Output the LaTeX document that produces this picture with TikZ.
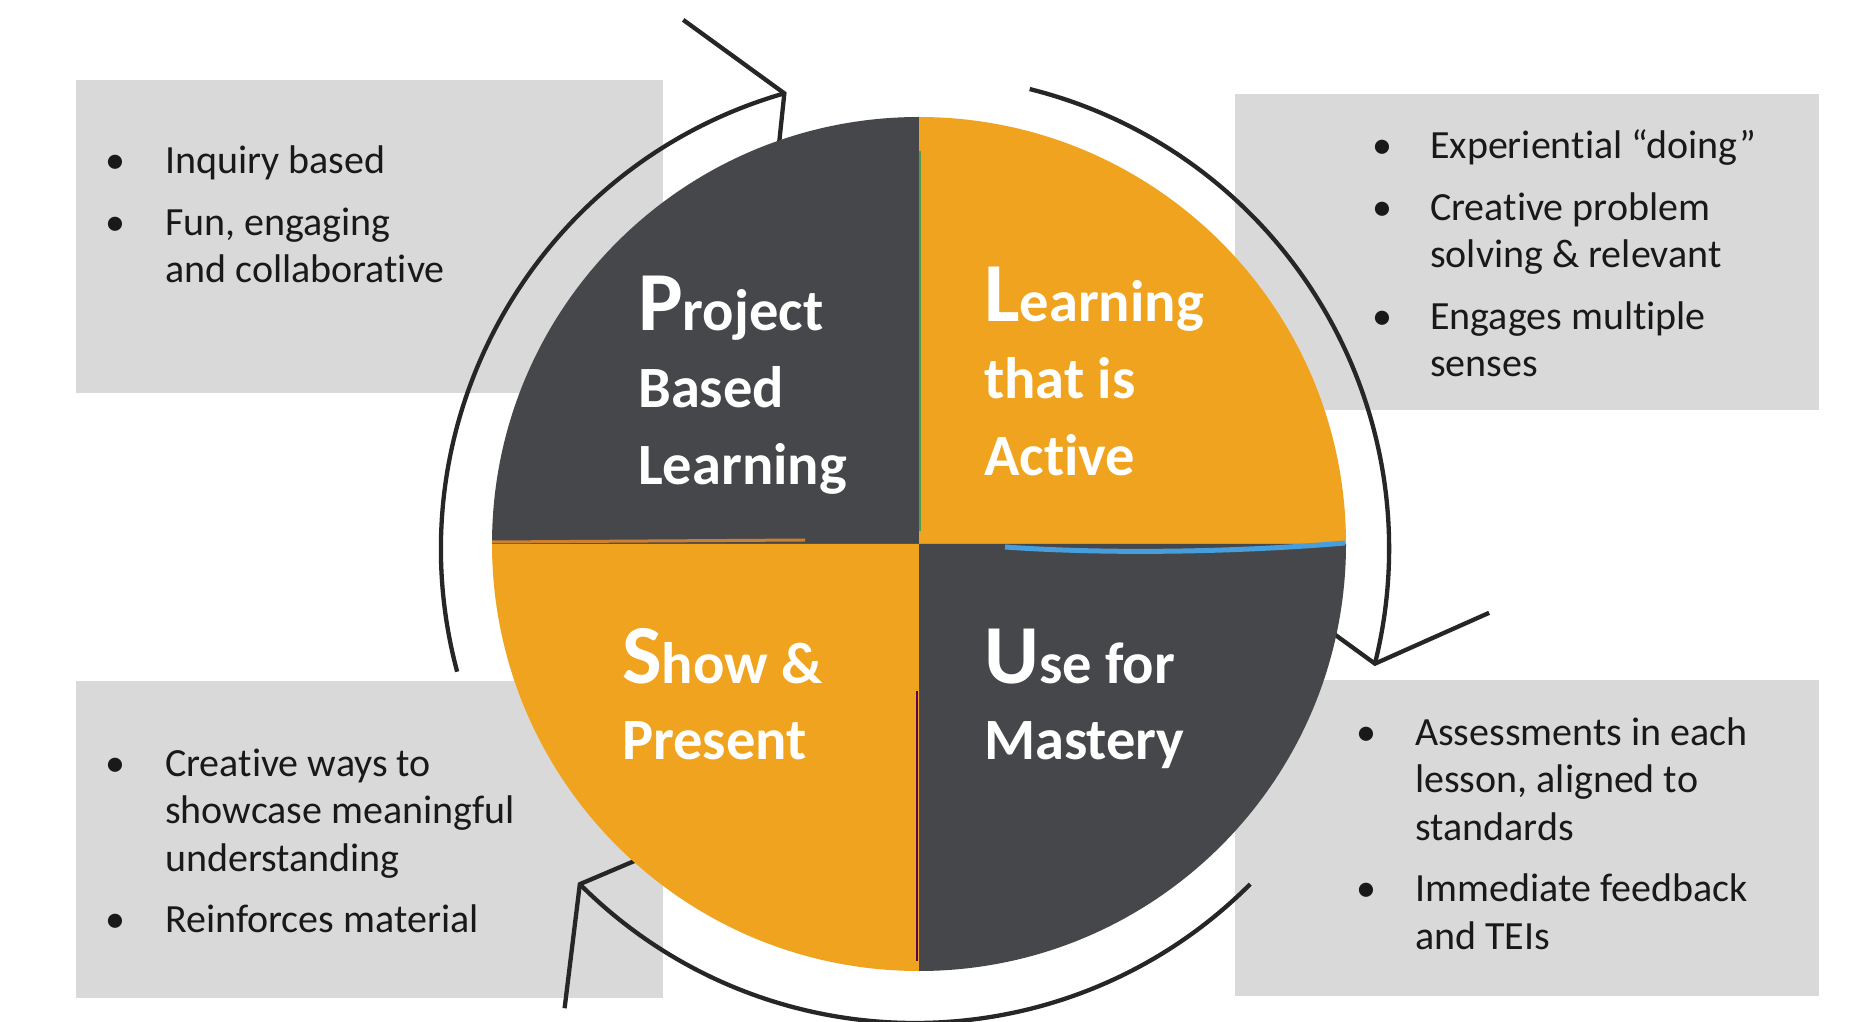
\documentclass[tikz,border=0pt]{standalone}
\usepackage{fontspec}
\setmainfont{Carlito}[Ligatures=NoCommon,Contextuals=NoAlternate]
\definecolor{pbldark}{RGB}{70,71,75}
\definecolor{pblorange}{RGB}{240,163,30}
\definecolor{pblgray}{RGB}{217,217,217}
\begin{document}
\begin{tikzpicture}[x=1pt,y=1pt,
  ring/.style={line width=4.3pt,draw=black!85},
  infobox/.style={fill=pblgray},
  itemtext/.style={anchor=base west,inner sep=0pt,text=black!90,font=\fontsize{40}{47.5}\selectfont},
  quadtext/.style={anchor=base west,inner sep=0pt,text=white,font=\fontsize{58.5}{77}\selectfont\bfseries}]
\useasboundingbox (0,0) rectangle (1852,1021);
\fill[white] (0,0) rectangle (1852,1021);
\fill[infobox] (76,628) rectangle (663,941);
\fill[infobox] (1235,611) rectangle (1819,927);
\fill[infobox] (76,23) rectangle (663,340);
\fill[infobox] (1235,25) rectangle (1819,341);
\coordinate (ctr) at (915,472);
\coordinate (pc) at (919,477);
\foreach \s/\e in {195/106,76/-14,-45/-135}{
  \draw[ring] (ctr) ++(\s:474) arc[start angle=\s,end angle=\e,radius=474] coordinate (tip);
  \draw[ring] (tip) ++(\e+38:125) -- (tip) -- ++(\e+158:100);
}
\fill[pbldark] (pc) -- ++(0,427) arc[start angle=90,end angle=180,radius=427] -- cycle;
\fill[pblorange] (pc) -- ++(427,0) arc[start angle=0,end angle=90,radius=427] -- cycle;
\fill[pblorange] (pc) -- ++(-427,0) arc[start angle=180,end angle=270,radius=427] -- cycle;
\fill[pbldark] (pc) -- ++(0,-427) arc[start angle=270,end angle=360,radius=427] -- cycle;
\draw[line width=2pt,green!45!black!70] (920,490) -- (920,870);
\draw[line width=5pt,cyan!70!blue!75] (1005,474) .. controls (1120,466) and (1250,470) .. (1345,478);
\draw[line width=3pt,brown!80!orange] (492,479) -- (805,481);
\draw[line width=2pt,violet!70!black] (917,330) -- (917,60);
\node[quadtext] (pbl) at (638,690) {\begin{tabular}[t]{@{}l@{}}{\fontsize{84}{77}\selectfont P}roject\\Based\\Learning\end{tabular}};
\node[quadtext] (lta) at (984,699) {\begin{tabular}[t]{@{}l@{}}{\fontsize{84}{77}\selectfont L}earning\\that is\\Active\end{tabular}};
\node[quadtext] (sap) at (622,338) {\begin{tabular}[t]{@{}l@{}}{\fontsize{84}{77}\selectfont S}how \&\\Present\end{tabular}};
\node[quadtext] (ufm) at (984,338) {\begin{tabular}[t]{@{}l@{}}{\fontsize{84}{77}\selectfont U}se for\\Mastery\end{tabular}};
\node[itemtext] (pbltxt) at (105,847) {\begin{tabular}[t]{@{}p{60pt}@{}l@{}}\textbullet & Inquiry based\\[14pt]\textbullet & Fun, engaging\\ & and collaborative\end{tabular}};
\node[itemtext] (ltatxt) at (1372,862) {\begin{tabular}[t]{@{}p{58pt}@{}l@{}}\textbullet & Experiential “doing”\\[14pt]\textbullet & Creative problem\\ & solving \& relevant\\[14pt]\textbullet & Engages multiple\\ & senses\end{tabular}};
\node[itemtext] (saptxt) at (105,245) {\begin{tabular}[t]{@{}p{60pt}@{}l@{}}\textbullet & Creative ways to\\ & showcase meaningful\\ & understanding\\[14pt]\textbullet & Reinforces material\end{tabular}};
\node[itemtext] (ufmtxt) at (1356,276) {\begin{tabular}[t]{@{}p{59pt}@{}l@{}}\textbullet & Assessments in each\\ & lesson, aligned to\\ & standards\\[14pt]\textbullet & Immediate feedback\\ & and TEIs\end{tabular}};
\end{tikzpicture}
\end{document}
